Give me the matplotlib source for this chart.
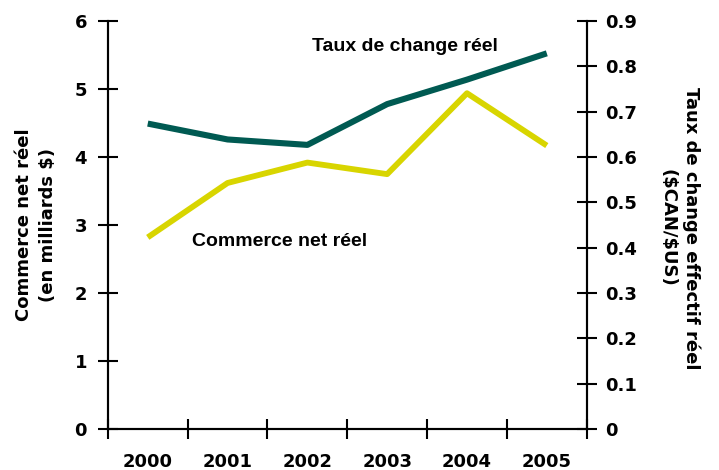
import matplotlib.pyplot as plt

# Commerce net reel (milliards $) and taux de change effectif reel ($CAN/$US)
years = ["2000", "2001", "2002", "2003", "2004", "2005"]
commerce = [2.82, 3.62, 3.92, 3.75, 4.94, 4.17]
taux = [0.674, 0.639, 0.627, 0.717, 0.771, 0.829]

left_ticks = [0, 1, 2, 3, 4, 5, 6]
right_ticks = [0, 0.1, 0.2, 0.3, 0.4, 0.5, 0.6, 0.7, 0.8, 0.9]
right_labels = ["0", "0.1", "0.2", "0.3", "0.4", "0.5", "0.6", "0.7", "0.8", "0.9"]

teal = "#005a52"
yellow = "#d8d500"

plt.rcParams["font.family"] = "DejaVu Sans"
plt.rcParams["font.weight"] = "bold"

fig = plt.figure(figsize=(7.19, 4.70), dpi=100)
ax = fig.add_axes([0.150, 0.087, 0.666, 0.868])
ax2 = ax.twinx()

x = list(range(len(years)))
ax.plot(x, commerce, color=yellow, lw=4.2, solid_capstyle="butt", zorder=3)
ax2.plot(x, taux, color=teal, lw=4.4, solid_capstyle="butt", zorder=3)

ax.set_xlim(-0.5, len(years) - 0.5)
ax.set_ylim(0, 6)
ax2.set_ylim(0, 0.9)

# category boundaries as major ticks, year labels on minor ticks
ax.set_xticks([i - 0.5 for i in range(len(years) + 1)])
ax.set_xticklabels([])
ax.set_xticks(x, minor=True)
ax.set_xticklabels(years, minor=True, fontsize=13, fontweight="bold")
ax.tick_params(axis="x", which="major", direction="inout", length=14, width=1.5)
ax.tick_params(axis="x", which="minor", length=0, pad=17)

ax.set_yticks(left_ticks)
ax.set_yticklabels([str(v) for v in left_ticks], fontsize=13, fontweight="bold")
ax.tick_params(axis="y", direction="inout", length=14, width=1.5, pad=8)

ax2.set_yticks(right_ticks)
ax2.set_yticklabels(right_labels, fontsize=13, fontweight="bold")
ax2.tick_params(axis="y", direction="inout", length=14, width=1.5, pad=6)

for a in (ax, ax2):
    a.spines["top"].set_visible(False)
    for s in ("left", "right", "bottom"):
        a.spines[s].set_linewidth(1.5)

fig.text(0.050, 0.521, "Commerce net réel\n(en milliards \\$)", rotation=90,
         ha="center", va="center", multialignment="center",
         fontsize=13, fontweight="bold", linespacing=1.45)
fig.text(0.945, 0.515, "Taux de change effectif réel\n(\\$CAN/\\$US)", rotation=270,
         ha="center", va="center", multialignment="center",
         fontsize=13, fontweight="bold", linespacing=1.45)

# series names written next to their lines
ax2.text(2.06, 0.843, "Taux de change réel", family="Liberation Sans", fontsize=14,
         fontweight="bold", ha="left", va="center")
ax2.text(0.55, 0.413, "Commerce net réel", family="Liberation Sans", fontsize=14,
         fontweight="bold", ha="left", va="center")

fig.savefig("out.png", dpi=100)
